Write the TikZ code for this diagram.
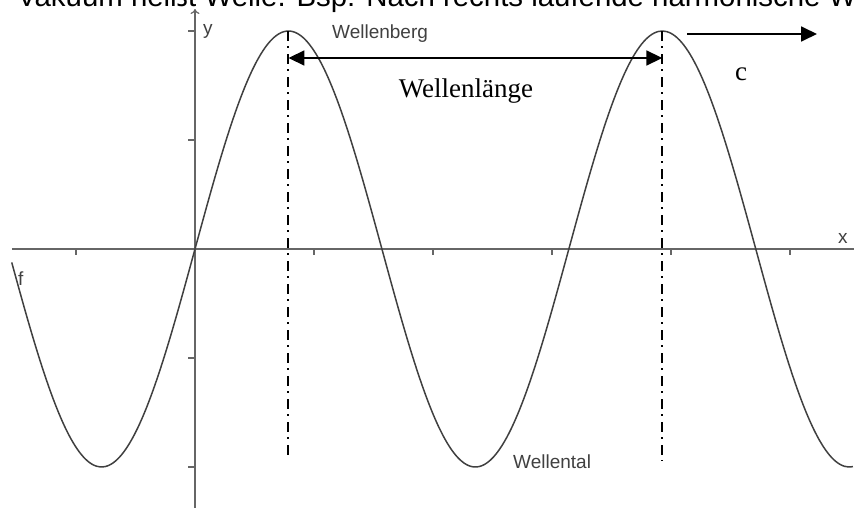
\documentclass[tikz,border=0pt]{standalone}
\usepackage{fontspec}
\setmainfont{Liberation Serif}
\setsansfont{Liberation Sans}
\usetikzlibrary{positioning, calc, arrows.meta}

\tikzset{
	axis/.style={draw=black!60, line width=1.2pt},
	graphlabel/.style={font=\sffamily\fontsize{19}{19}\selectfont, text=black!75, inner sep=0pt},
	serifbig/.style={font=\fontsize{27}{27}\selectfont, inner sep=0pt},
	marker/.style={black, line width=2pt, dash pattern=on 10pt off 5pt on 1.5pt off 6.5pt},
	bigarrow/.style={black, line width=1.8pt},
}

\begin{document}
\begin{tikzpicture}[x=119pt, y=109pt]
		\useasboundingbox (-195pt,-258pt) rectangle (659pt,249pt);
		% Text of the page above, cut by the frame
		\node[anchor=base west, inner sep=0pt, font=\sffamily\fontsize{29.4}{30}\selectfont] (heading) at (-178pt, 243pt) {Vakuum heißt Welle. Bsp: Nach rechts laufende harmonische Welle};
		
		\coordinate (xstart) at (-183pt, 0);
		\coordinate (xend) at (5.8, 0);
		\coordinate (ystart) at (0, -2.5);
		\coordinate (yend) at (0, 240pt);
		\draw[axis] (xstart) -- (xend);
		\draw[axis, -{To[length=5pt, width=9pt]}] (ystart) -- (yend);
		\foreach \i in {-1, 1, 2, 3, 4, 5}
			\draw[axis] (\i, 0) -- ++(0, -6pt);
		\foreach \j in {-2, -1, 1, 2}
			\draw[axis] (0, \j) -- ++(-7pt, 0);
		\node[graphlabel, anchor=west] (ylabel) at (8pt, 2) {y};
		\node[graphlabel, anchor=base west] (xlabel) at (643pt, 6pt) {x};
		
		\draw[black!75, line width=1.5pt, domain=-1.54:5.53, samples=200, smooth] plot (\x, {2*sin(2*\x r)});
		\node[graphlabel, anchor=base west] (flabel) at (-177pt, -36pt) {f};
		
		\coordinate (crestL) at ({pi/4}, 2);
		\coordinate (crestR) at ({5*pi/4}, 2);
		\node[graphlabel, anchor=base west] (berg) at (137pt, 211pt) {Wellenberg};
		\node[graphlabel, anchor=base west] (tal) at (318pt, -219pt) {Wellental};
		
		\coordinate (footL) at ({pi/4}, -206pt);
		\coordinate (footR) at ({5*pi/4}, -212pt);
		\draw[marker] (crestL) -- (footL);
		\draw[marker] (crestR) -- (footR);
		
		\coordinate (lamL) at ({pi/4}, 191pt);
		\coordinate (lamR) at ({5*pi/4}, 191pt);
		\draw[bigarrow, {Triangle[length=16pt, width=15pt]}-{Triangle[length=16pt, width=15pt]}] (lamL) -- (lamR);
		\node[serifbig, anchor=base] (lambda) at (271pt, 152pt) {Wellenlänge};
		
		\coordinate (cstart) at (492pt, 215pt);
		\coordinate (cend) at (622pt, 215pt);
		\draw[bigarrow, -{Triangle[length=16pt, width=15pt]}] (cstart) -- (cend);
		\node[serifbig, anchor=base west] (speed) at (540pt, 169pt) {c};
	\end{tikzpicture}
\end{document}
